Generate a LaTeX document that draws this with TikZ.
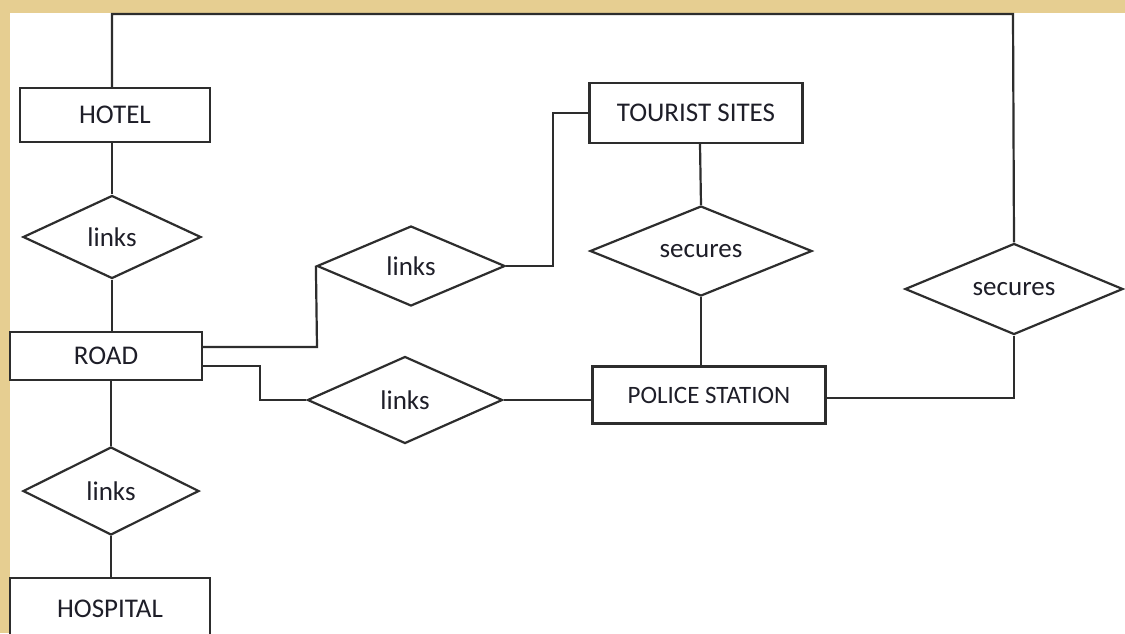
\documentclass[tikz,border=0pt]{standalone}
\usepackage{fontspec}
\setmainfont{Carlito}
\usetikzlibrary{shapes.geometric}
\definecolor{tan}{RGB}{230,206,145}
\definecolor{ln}{RGB}{45,45,45}
\definecolor{tx}{RGB}{30,30,40}
\tikzset{
  ent/.style={draw=ln, line width=2.2pt, rectangle, fill=white, inner sep=0pt, text=tx, font=\fontsize{27}{32}\selectfont},
  rel/.style={draw=ln, line width=2.2pt, diamond, aspect=2.1, inner sep=0pt, fill=white, text=tx, font=\fontsize{27}{32}\selectfont},
  con/.style={draw=ln, line width=2.2pt}
}
\begin{document}
\begin{tikzpicture}[x=1pt,y=-1pt]
\clip (0,0) rectangle (1125,633);
\fill[tan] (0,0) rectangle (1125,633);
\fill[white] (10,13) rectangle (1125,633);
% entities
\node[ent, minimum width=190pt, minimum height=54pt] (hotel) at (115,115) {HOTEL};
\node[ent, minimum width=192pt, minimum height=48pt] (road) at (106,356) {ROAD};
\node[ent, minimum width=200pt, minimum height=62pt] (hosp) at (110,609) {HOSPITAL};
\node[ent, minimum width=213pt, minimum height=60pt] (tour) at (696,113) {TOURIST SITES};
\node[ent, minimum width=233pt, minimum height=57pt, font=\fontsize{25}{30}\selectfont] (police) at (709,395) {POLICE STATION};
% relationships
\node[rel, minimum width=178pt, minimum height=83pt] (l1) at (112,237) {links};
\node[rel, minimum width=176pt, minimum height=88pt] (l2) at (111,491) {links};
\node[rel, minimum width=188pt, minimum height=80pt] (l3) at (411,266) {links};
\node[rel, minimum width=195pt, minimum height=87pt] (l4) at (405,400) {links};
\node[rel, minimum width=222pt, minimum height=90pt] (s1) at (701,251) {secures};
\node[rel, minimum width=218pt, minimum height=91pt] (s2) at (1014,289) {secures};
% connectors
\coordinate (tr) at (1013,14);
\draw[con] (l1.north |- hotel.north) -- (l1.north |- tr) -- (tr) -- (s2.north);
\draw[con] (l1.north |- hotel.south) -- (l1.north);
\draw[con] (l1.south) -- (road.north -| l1.south);
\draw[con] (road.south -| l2.north) -- (l2.north);
\draw[con] (l2.south) -- (hosp.north -| l2.south);
\coordinate (r1) at (317,347);
\draw[con] (road.east |- r1) -- (r1) -- (l3.west);
\coordinate (t1) at (553,266);
\draw[con] (l3.east) -- (t1) |- (tour.west);
\coordinate (r2) at (260,366);
\draw[con] (road.east |- r2) -- (r2) |- (l4.west);
\draw[con] (l4.east) -- (police.west |- l4.east);
\draw[con] (tour.south -| 700,0) -- (s1.north);
\draw[con] (s1.south) -- (police.north -| s1.south);
\draw[con] (s2.south) |- (police.east |- 0,398);
\end{tikzpicture}
\end{document}
